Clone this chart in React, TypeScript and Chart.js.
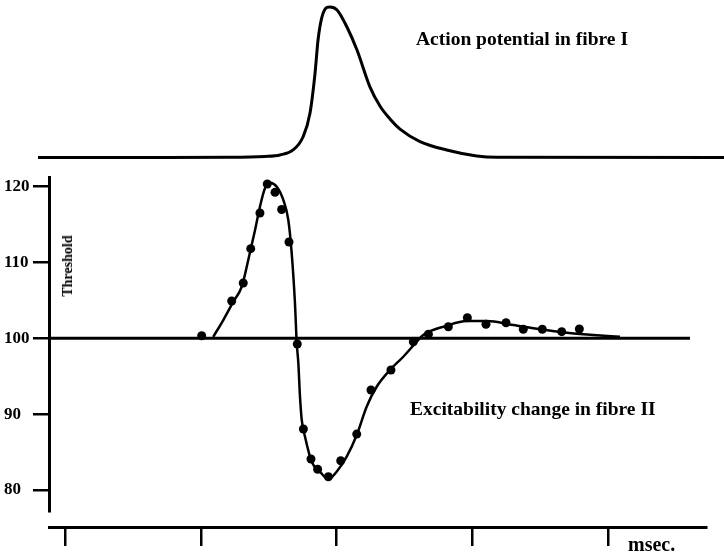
import React, { useEffect, useRef } from "react";
import { Chart, registerables } from "chart.js";

Chart.register(...registerables);

// ---- Data (time in msec from first tick, threshold in % of resting) ----
const xTicks = [0, 1, 2, 3, 4];
const yTicks = [80, 90, 100, 110, 120];

// Action potential in fibre I (arbitrary amplitude, peak = 100)
const apTime = [-0.199, 0.626, 1.215, 1.473, 1.584, 1.68, 1.753, 1.805, 1.842, 1.864, 1.893, 1.93, 1.952, 2.004, 2.077, 2.151, 2.247, 2.32, 2.394, 2.468, 2.615, 2.812, 3.033, 3.18, 4.855];
const apAmplitude = [0, 0, 0.1, 0.7, 1.7, 5.0, 13.6, 29.6, 56.1, 78.1, 93.4, 99.7, 100, 98.0, 86.7, 71.4, 46.8, 34.2, 25.6, 18.9, 10.6, 5.0, 1.0, 0.1, 0];

// Excitability change in fibre II – fitted curve
const curveTime = [1.092, 1.166, 1.24, 1.302, 1.35, 1.4, 1.436, 1.473, 1.51, 1.56, 1.608, 1.645, 1.67, 1.694, 1.707, 1.719, 1.731, 1.744, 1.768, 1.817, 1.878, 1.94, 2.001, 2.075, 2.149, 2.222, 2.296, 2.394, 2.492, 2.591, 2.639, 2.812, 2.959, 3.106, 3.302, 3.499, 3.696, 3.892, 4.088];
const curveThreshold = [100.2, 102.41, 104.83, 106.81, 110.33, 114.29, 117.36, 119.79, 120.53, 120.0, 118.25, 115.61, 111.21, 104.62, 99.38, 96.7, 92.3, 89.22, 87.02, 83.72, 82.4, 81.4, 82.4, 84.38, 87.24, 90.98, 93.61, 95.82, 97.57, 99.55, 100.44, 101.66, 102.28, 102.28, 101.75, 101.19, 100.74, 100.44, 100.2];

// Excitability change in fibre II – measured points
const dotTime = [1.007, 1.228, 1.313, 1.368, 1.436, 1.49, 1.547, 1.596, 1.65, 1.711, 1.756, 1.812, 1.861, 1.94, 2.031, 2.149, 2.254, 2.401, 2.566, 2.677, 2.824, 2.964, 3.101, 3.249, 3.376, 3.516, 3.659, 3.789];
const dotThreshold = [100.34, 104.92, 107.3, 111.83, 116.53, 120.36, 119.26, 117.0, 112.7, 99.25, 88.03, 84.08, 82.72, 81.74, 83.85, 87.37, 93.18, 95.82, 99.55, 100.53, 101.53, 102.72, 101.85, 102.06, 101.19, 101.19, 100.88, 101.23];

const baselineTime = [-0.118, 4.604];
const baselineThreshold = [100, 100];

// ---- Axis ranges ----
const X_MIN = -0.118;
const X_MAX = 4.722;
const TOP_X_MIN = -0.4788;
const TOP_X_MAX = 4.8545;
const Y_MIN = 77.22;
const Y_MAX = 121.28;
const AP_MIN = -8.31;
const AP_MAX = 104.65;

const SERIF = "'Liberation Serif', 'DejaVu Serif', serif";

const toPts = (xs: number[], ys: number[]) => xs.map((x, i) => ({ x, y: ys[i] }));

export default function App() {
  const topRef = useRef<HTMLCanvasElement | null>(null);
  const botRef = useRef<HTMLCanvasElement | null>(null);

  useEffect(() => {
    const top = new Chart(topRef.current as HTMLCanvasElement, {
      type: "line",
      data: {
        datasets: [
          {
            data: toPts(apTime, apAmplitude),
            borderColor: "#000",
            borderWidth: 3,
            pointRadius: 0,
            cubicInterpolationMode: "monotone",
            clip: false,
          } as any,
        ],
      },
      options: {
        animation: false,
        responsive: false,
        devicePixelRatio: 1,
        layout: { padding: 0 },
        plugins: { legend: { display: false }, tooltip: { enabled: false } },
        scales: {
          x: { type: "linear", display: false, min: TOP_X_MIN, max: TOP_X_MAX },
          y: { type: "linear", display: false, min: AP_MIN, max: AP_MAX },
        },
      },
    });

    const bottom = new Chart(botRef.current as HTMLCanvasElement, {
      type: "line",
      data: {
        datasets: [
          {
            data: toPts(baselineTime, baselineThreshold),
            xAxisID: "x",
            yAxisID: "y",
            borderColor: "#000",
            borderWidth: 3,
            pointRadius: 0,
            clip: false,
          } as any,
          {
            data: toPts(curveTime, curveThreshold),
            xAxisID: "x",
            yAxisID: "y",
            borderColor: "#000",
            borderWidth: 2.5,
            pointRadius: 0,
            cubicInterpolationMode: "monotone",
            clip: false,
          },
          {
            data: toPts(dotTime, dotThreshold),
            xAxisID: "x",
            yAxisID: "y",
            showLine: false,
            pointRadius: 4.5,
            pointBackgroundColor: "#000",
            pointBorderColor: "#000",
            pointBorderWidth: 0,
            clip: false,
          },
        ],
      },
      options: {
        animation: false,
        responsive: false,
        devicePixelRatio: 1,
        layout: { padding: { top: 177, left: 4, right: 18, bottom: 0 } },
        plugins: { legend: { display: false }, tooltip: { enabled: false } },
        scales: {
          x: {
            type: "linear",
            position: "bottom",
            weight: 1,
            min: X_MIN,
            max: X_MAX,
            afterBuildTicks: (s: any) => {
              s.ticks = xTicks.map((v) => ({ value: v }));
            },
            afterFit: (s: any) => {
              s.height = 27;
            },
            border: { display: true, color: "#000", width: 3 },
            grid: {
              display: true,
              drawOnChartArea: false,
              drawTicks: true,
              tickLength: 19,
              color: "#000",
              lineWidth: 2.5,
            },
            ticks: { display: false },
          },
          gap: {
            type: "linear",
            axis: "x",
            position: "bottom",
            weight: 0,
            display: true,
            grid: { display: false },
            border: { display: false },
            ticks: { display: false },
            afterFit: (s: any) => {
              s.height = 16;
            },
          } as any,
          y: {
            type: "linear",
            position: "left",
            min: Y_MIN,
            max: Y_MAX,
            afterBuildTicks: (s: any) => {
              s.ticks = yTicks.map((v) => ({ value: v }));
            },
            afterFit: (s: any) => {
              s.width = 45;
            },
            border: { display: true, color: "#000", width: 3 },
            grid: {
              display: true,
              drawOnChartArea: false,
              drawTicks: true,
              tickLength: 16,
              color: "#000",
              lineWidth: 2.5,
            },
            ticks: {
              color: "#000",
              padding: 0,
              crossAlign: "far",
              font: { family: SERIF, size: 17, weight: "bold" },
              callback: (v: any) => String(v),
            },
          },
        },
      },
    });

    return () => {
      top.destroy();
      bottom.destroy();
    };
  }, []);

  const textBase: React.CSSProperties = {
    position: "absolute",
    fontFamily: SERIF,
    fontWeight: "bold",
    lineHeight: 1,
    color: "#000",
    whiteSpace: "nowrap",
  };

  return (
    <div
      style={{
        position: "absolute",
        left: 0,
        top: 0,
        width: 724,
        height: 554,
        background: "#fff",
        overflow: "hidden",
      }}
    >
      <canvas
        ref={botRef}
        width={724}
        height={554}
        style={{ position: "absolute", left: 0, top: 0, display: "block" }}
      />
      <canvas
        ref={topRef}
        width={724}
        height={170}
        style={{ position: "absolute", left: 0, top: 0, display: "block" }}
      />
      <div style={{ ...textBase, left: 416, top: 28.7, fontSize: 19.5 }}>Action potential in fibre I</div>
      <div style={{ ...textBase, left: 410, top: 398.7, fontSize: 19.5 }}>Excitability change in fibre II</div>
      <div style={{ ...textBase, left: 628, top: 534, fontSize: 20 }}>msec.</div>
      <div
        style={{
          ...textBase,
          fontSize: 14,
          left: 68,
          top: 265.5,
          transform: "translate(-50%, -50%) rotate(-90deg)",
        }}
      >
        Threshold
      </div>
    </div>
  );
}
